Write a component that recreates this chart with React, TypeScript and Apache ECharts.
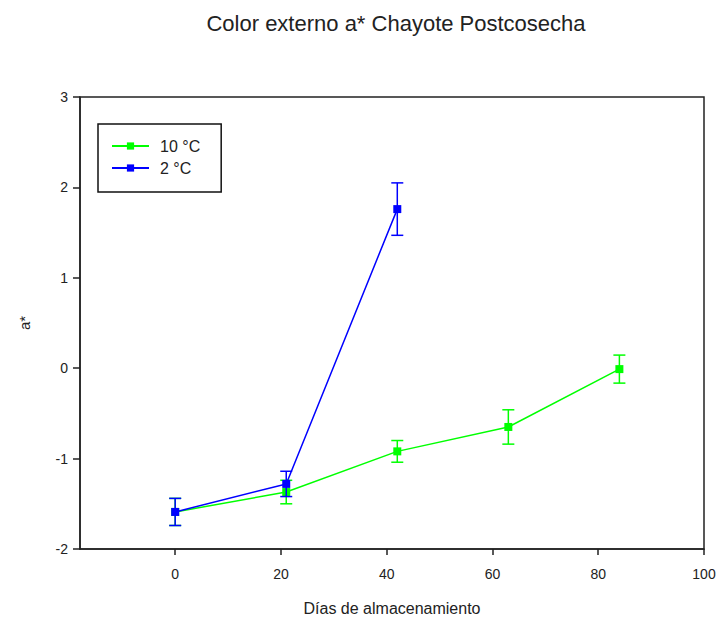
import React, { useEffect, useRef } from "react";
import * as echarts from "echarts";

const days = [0, 21, 42, 63, 84];
const mean10 = [-1.59, -1.37, -0.92, -0.65, -0.01];
const err10 = [0.15, 0.13, 0.12, 0.19, 0.155];
const days2 = [0, 21, 42];
const mean2 = [-1.59, -1.28, 1.76];
const err2 = [0.15, 0.14, 0.29];
const xTicks = [0, 20, 40, 60, 80, 100];
const seriesNames = ["10 °C", "2 °C"];
const colors = ["#00ff00", "#0000ff"];

const FONT = "'Liberation Sans', Arial, sans-serif";

function errorData(xs: number[], m: number[], e: number[]) {
  return xs.map((x, i) => [x, m[i] - e[i], m[i] + e[i]]);
}

function errorSeries(name: string, color: string, data: number[][]) {
  return {
    type: "custom",
    name,
    data,
    encode: { x: 0, y: [1, 2] },
    z: 3,
    renderItem: (params: any, api: any) => {
      const x = api.value(0);
      const lo = api.coord([x, api.value(1)]);
      const hi = api.coord([x, api.value(2)]);
      const hw = 6;
      const style = { stroke: color, lineWidth: 1.5 };
      return {
        type: "group",
        children: [
          { type: "line", shape: { x1: lo[0], y1: lo[1], x2: hi[0], y2: hi[1] }, style },
          { type: "line", shape: { x1: lo[0] - hw, y1: lo[1], x2: lo[0] + hw, y2: lo[1] }, style },
          { type: "line", shape: { x1: hi[0] - hw, y1: hi[1], x2: hi[0] + hw, y2: hi[1] }, style },
        ],
      };
    },
  };
}

export default function App() {
  const ref = useRef<HTMLDivElement>(null);
  useEffect(() => {
    if (!ref.current) return;
    const chart = echarts.init(ref.current, undefined, { renderer: "svg" });
    const axisLine = { show: true, onZero: false, lineStyle: { color: "#222", width: 1.5 } };
    chart.setOption({
      animation: false,
      backgroundColor: "#fff",
      title: {
        text: "Color externo a* Chayote Postcosecha",
        left: 391,
        textAlign: "center",
        top: 7,
        textStyle: { fontFamily: FONT, fontSize: 22, fontWeight: "normal", color: "#222" },
      },
      legend: {
        data: seriesNames,
        orient: "vertical",
        left: 98,
        top: 124,
        itemWidth: 37,
        itemHeight: 9,
        itemGap: 6,
        padding: [14, 21, 16, 13],
        borderColor: "#111",
        borderWidth: 1.5,
        textStyle: { fontFamily: FONT, fontSize: 16, color: "#222", padding: [0, 0, 0, 6] },
      },
      grid: {
        left: 80,
        right: 720 - 704,
        top: 97,
        bottom: 621 - 549,
        show: true,
        borderColor: "#222",
        borderWidth: 1.5,
        containLabel: false,
      },
      xAxis: {
        type: "value",
        min: -18,
        max: 100,
        name: "Días de almacenamiento",
        nameLocation: "middle",
        nameGap: 51,
        nameTextStyle: { fontFamily: FONT, fontSize: 16, color: "#222" },
        axisLine,
        axisTick: { show: true, customValues: xTicks, length: 6, lineStyle: { color: "#222", width: 1.5 } },
        axisLabel: { customValues: xTicks, fontFamily: FONT, fontSize: 14, color: "#222", margin: 18 },
        splitLine: { show: false },
      },
      yAxis: {
        type: "value",
        min: -2,
        max: 3,
        interval: 1,
        name: "a*",
        nameLocation: "middle",
        nameGap: 48,
        nameRotate: 90,
        nameTextStyle: { fontFamily: FONT, fontSize: 15, color: "#222" },
        axisLine,
        axisTick: { show: true, length: 7, lineStyle: { color: "#222", width: 1.5 } },
        axisLabel: { fontFamily: FONT, fontSize: 14, color: "#222", margin: 12 },
        splitLine: { show: false },
      },
      series: [
        {
          type: "line",
          name: seriesNames[0],
          data: days.map((d, i) => [d, mean10[i]]),
          color: colors[0],
          symbol: "rect",
          symbolSize: 8,
          lineStyle: { width: 1.5, color: colors[0] },
          itemStyle: { color: colors[0] },
          z: 2,
        },
        errorSeries(seriesNames[0], colors[0], errorData(days, mean10, err10)),
        {
          type: "line",
          name: seriesNames[1],
          data: days2.map((d, i) => [d, mean2[i]]),
          color: colors[1],
          symbol: "rect",
          symbolSize: 8,
          lineStyle: { width: 1.5, color: colors[1] },
          itemStyle: { color: colors[1] },
          z: 4,
        },
        errorSeries(seriesNames[1], colors[1], errorData(days2, mean2, err2)),
      ],
    });
    return () => chart.dispose();
  }, []);
  return <div ref={ref} style={{ width: 720, height: 621, position: "absolute", left: 0, top: 0 }} />;
}
